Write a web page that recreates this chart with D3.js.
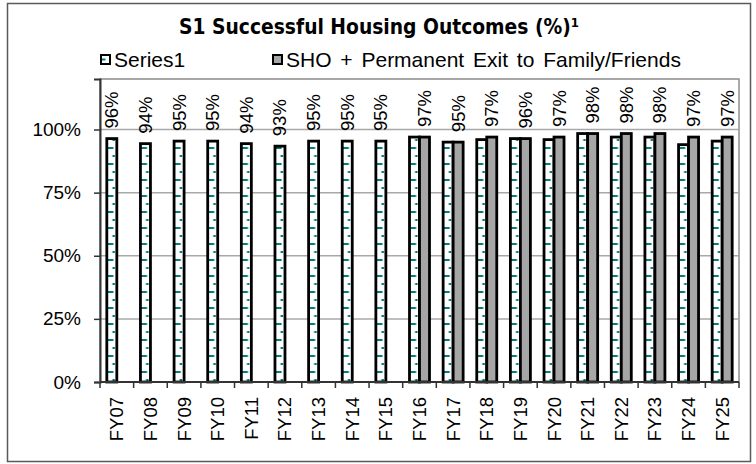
<!DOCTYPE html>
<html>
<head>
<meta charset="utf-8">
<script src="https://cdn.jsdelivr.net/npm/d3@7"></script>
<style>
  body { margin: 0; background: #fff; }
  svg { display: block; }
  text { font-family: "Liberation Sans", Arial, sans-serif; fill: #000; }
</style>
</head>
<body>
<div id="chart"></div>
<script>
// chart values
var categories = ["FY07", "FY08", "FY09", "FY10", "FY11", "FY12", "FY13", "FY14", "FY15", "FY16",
                  "FY17", "FY18", "FY19", "FY20", "FY21", "FY22", "FY23", "FY24", "FY25"];
var series1 = [96.4, 94.4, 95.4, 95.4, 94.4, 93.4, 95.4, 95.4, 95.4, 97,
               95, 96, 96.4, 96, 98.4, 97, 97, 94, 95.4];
var series2 = [null, null, null, null, null, null, null, null, null, 97,
               95, 97, 96.4, 97, 98.4, 98.4, 98.4, 97, 97];
var seriesNames = ["Series1", "SHO + Permanent Exit to Family/Friends"];
var yTicks = [0, 25, 50, 75, 100];
var title = "S1 Successful Housing Outcomes (%)";
var titleNote = "1";

var width = 756, height = 464;
var margin = {top: 79, right: 17, bottom: 82, left: 100};

var svg = d3.select("#chart").append("svg")
  .attr("width", width)
  .attr("height", height);

// outer frame
svg.append("rect")
  .attr("x", 7.5).attr("y", 3.5)
  .attr("width", 743).attr("height", 458)
  .attr("fill", "#fff")
  .attr("stroke", "#5a5a5a")
  .attr("stroke-width", 1.5);

var titleText = svg.append("text")
  .attr("x", 379)
  .attr("y", 34)
  .attr("text-anchor", "middle")
  .style("font-family", "'DejaVu Sans Condensed', 'DejaVu Sans', sans-serif")
  .style("font-weight", "bold")
  .style("font-size", "20.8px");
titleText.append("tspan").text(title);
titleText.append("tspan")
  .attr("dy", -7)
  .style("font-size", "13px")
  .text(titleNote);

var x0 = d3.scaleBand()
  .domain(categories)
  .range([margin.left, width - margin.right])
  .padding(0);

// two 10px bars centred in each category
var x1 = d3.scaleBand()
  .domain(["s1", "s2"])
  .range([(x0.bandwidth() - 20) / 2, (x0.bandwidth() + 20) / 2])
  .padding(0);

var y = d3.scaleLinear()
  .domain([0, 120])
  .range([height - margin.bottom, margin.top]);

var defs = svg.append("defs");
var pat = defs.append("pattern")
  .attr("id", "dash")
  .attr("patternUnits", "userSpaceOnUse")
  .attr("x", x0(categories[0]) + x1("s1"))
  .attr("y", y(0))
  .attr("width", x0.step())
  .attr("height", 16);
pat.append("rect").attr("width", x0.step()).attr("height", 16).attr("fill", "#fff");
pat.append("rect").attr("x", 1).attr("y", 5).attr("width", 6.5).attr("height", 2).attr("fill", "#007f7f");
pat.append("rect").attr("x", 6.5).attr("y", 13).attr("width", 2.5).attr("height", 2).attr("fill", "#007f7f");

// plot area
svg.append("rect")
  .attr("x", margin.left).attr("y", margin.top)
  .attr("width", width - margin.left - margin.right)
  .attr("height", y(0) - margin.top)
  .attr("fill", "#fff")
  .attr("stroke", "#8c8c8c")
  .attr("stroke-width", 1.5);

// gridlines
svg.append("g")
  .selectAll("line")
  .data(yTicks.slice(1))
  .enter()
  .append("line")
  .attr("x1", margin.left).attr("x2", width - margin.right)
  .attr("y1", function(d) { return y(d); })
  .attr("y2", function(d) { return y(d); })
  .attr("stroke", "#a8a8a8")
  .attr("stroke-width", 1.5);

// bars
var groups = svg.append("g")
  .selectAll("g")
  .data(categories)
  .enter()
  .append("g")
  .attr("transform", function(d) { return "translate(" + x0(d) + ",0)"; });

groups.filter(function(d, i) { return series1[i] != null; })
  .append("rect")
  .attr("x", x1("s1"))
  .attr("width", x1.bandwidth())
  .attr("y", function(d) { return y(series1[categories.indexOf(d)]); })
  .attr("height", function(d) { return y(0) - y(series1[categories.indexOf(d)]); })
  .attr("fill", "url(#dash)")
  .attr("stroke", "#000")
  .attr("stroke-width", 2.8);

groups.filter(function(d, i) { return series2[i] != null; })
  .append("rect")
  .attr("x", x1("s2"))
  .attr("width", x1.bandwidth())
  .attr("y", function(d) { return y(series2[categories.indexOf(d)]); })
  .attr("height", function(d) { return y(0) - y(series2[categories.indexOf(d)]); })
  .attr("fill", "#a6a6a6")
  .attr("stroke", "#000")
  .attr("stroke-width", 2.8);

// data labels: series2 where present, otherwise series1
groups.append("text")
  .attr("transform", function(d) {
    var i = categories.indexOf(d);
    var useS2 = series2[i] != null;
    var v = useS2 ? series2[i] : series1[i];
    var cx = (useS2 ? x1("s2") : x1("s1")) + x1.bandwidth() / 2;
    return "translate(" + cx + "," + (y(v) - 10) + ") rotate(-90)";
  })
  .attr("dy", "0.35em")
  .style("font-size", "18.5px")
  .text(function(d) {
    var i = categories.indexOf(d);
    var v = series2[i] != null ? series2[i] : series1[i];
    return Math.round(v) + "%";
  });

// y axis
var yAxis = d3.axisLeft(y)
  .tickValues(yTicks)
  .tickSize(6)
  .tickPadding(13)
  .tickFormat(function(d) { return d + "%"; });
var gy = svg.append("g")
  .attr("transform", "translate(" + margin.left + ",0)")
  .call(yAxis);
gy.select(".domain").attr("stroke", "#333").attr("stroke-width", 2);
gy.selectAll(".tick line").attr("stroke", "#333").attr("stroke-width", 1.5);
gy.selectAll(".tick text").style("font-size", "19px").style("font-family", "'Liberation Sans', Arial, sans-serif");

// x axis
var gx = svg.append("g")
  .attr("transform", "translate(0," + y(0) + ")");
gx.append("line")
  .attr("x1", margin.left).attr("x2", width - margin.right)
  .attr("stroke", "#333").attr("stroke-width", 2);
gx.selectAll("line.tk")
  .data(categories.concat(["end"]))
  .enter()
  .append("line")
  .attr("class", "tk")
  .attr("x1", function(d, i) { return margin.left + i * x0.step(); })
  .attr("x2", function(d, i) { return margin.left + i * x0.step(); })
  .attr("y1", 0).attr("y2", 6)
  .attr("stroke", "#333").attr("stroke-width", 1.5);
gx.selectAll("text")
  .data(categories)
  .enter()
  .append("text")
  .attr("transform", function(d) {
    return "translate(" + (x0(d) + x0.bandwidth() / 2) + ",15) rotate(-90)";
  })
  .attr("text-anchor", "end")
  .attr("dy", "0.35em")
  .style("font-size", "18.5px")
  .text(function(d) { return d; });

// legend
var legend = svg.append("g").attr("class", "legend");
var legendX = [100, 272];
var lg = legend.selectAll("g")
  .data(seriesNames)
  .enter()
  .append("g")
  .attr("transform", function(d, i) { return "translate(" + legendX[i] + ",0)"; });
lg.append("rect")
  .attr("x", 1).attr("y", 55)
  .attr("width", 9).attr("height", 9)
  .attr("fill", function(d, i) { return i === 0 ? "#fff" : "#a6a6a6"; })
  .attr("stroke", "#000")
  .attr("stroke-width", 2);
lg.filter(function(d, i) { return i === 0; })
  .append("rect")
  .attr("x", 2).attr("y", 58.5)
  .attr("width", 3.5).attr("height", 2)
  .attr("fill", "#007f7f");
lg.append("text")
  .attr("x", 14)
  .attr("y", 67)
  .style("font-size", "21px")
  .style("word-spacing", "3px")
  .text(function(d) { return d; });
</script>
</body>
</html>
